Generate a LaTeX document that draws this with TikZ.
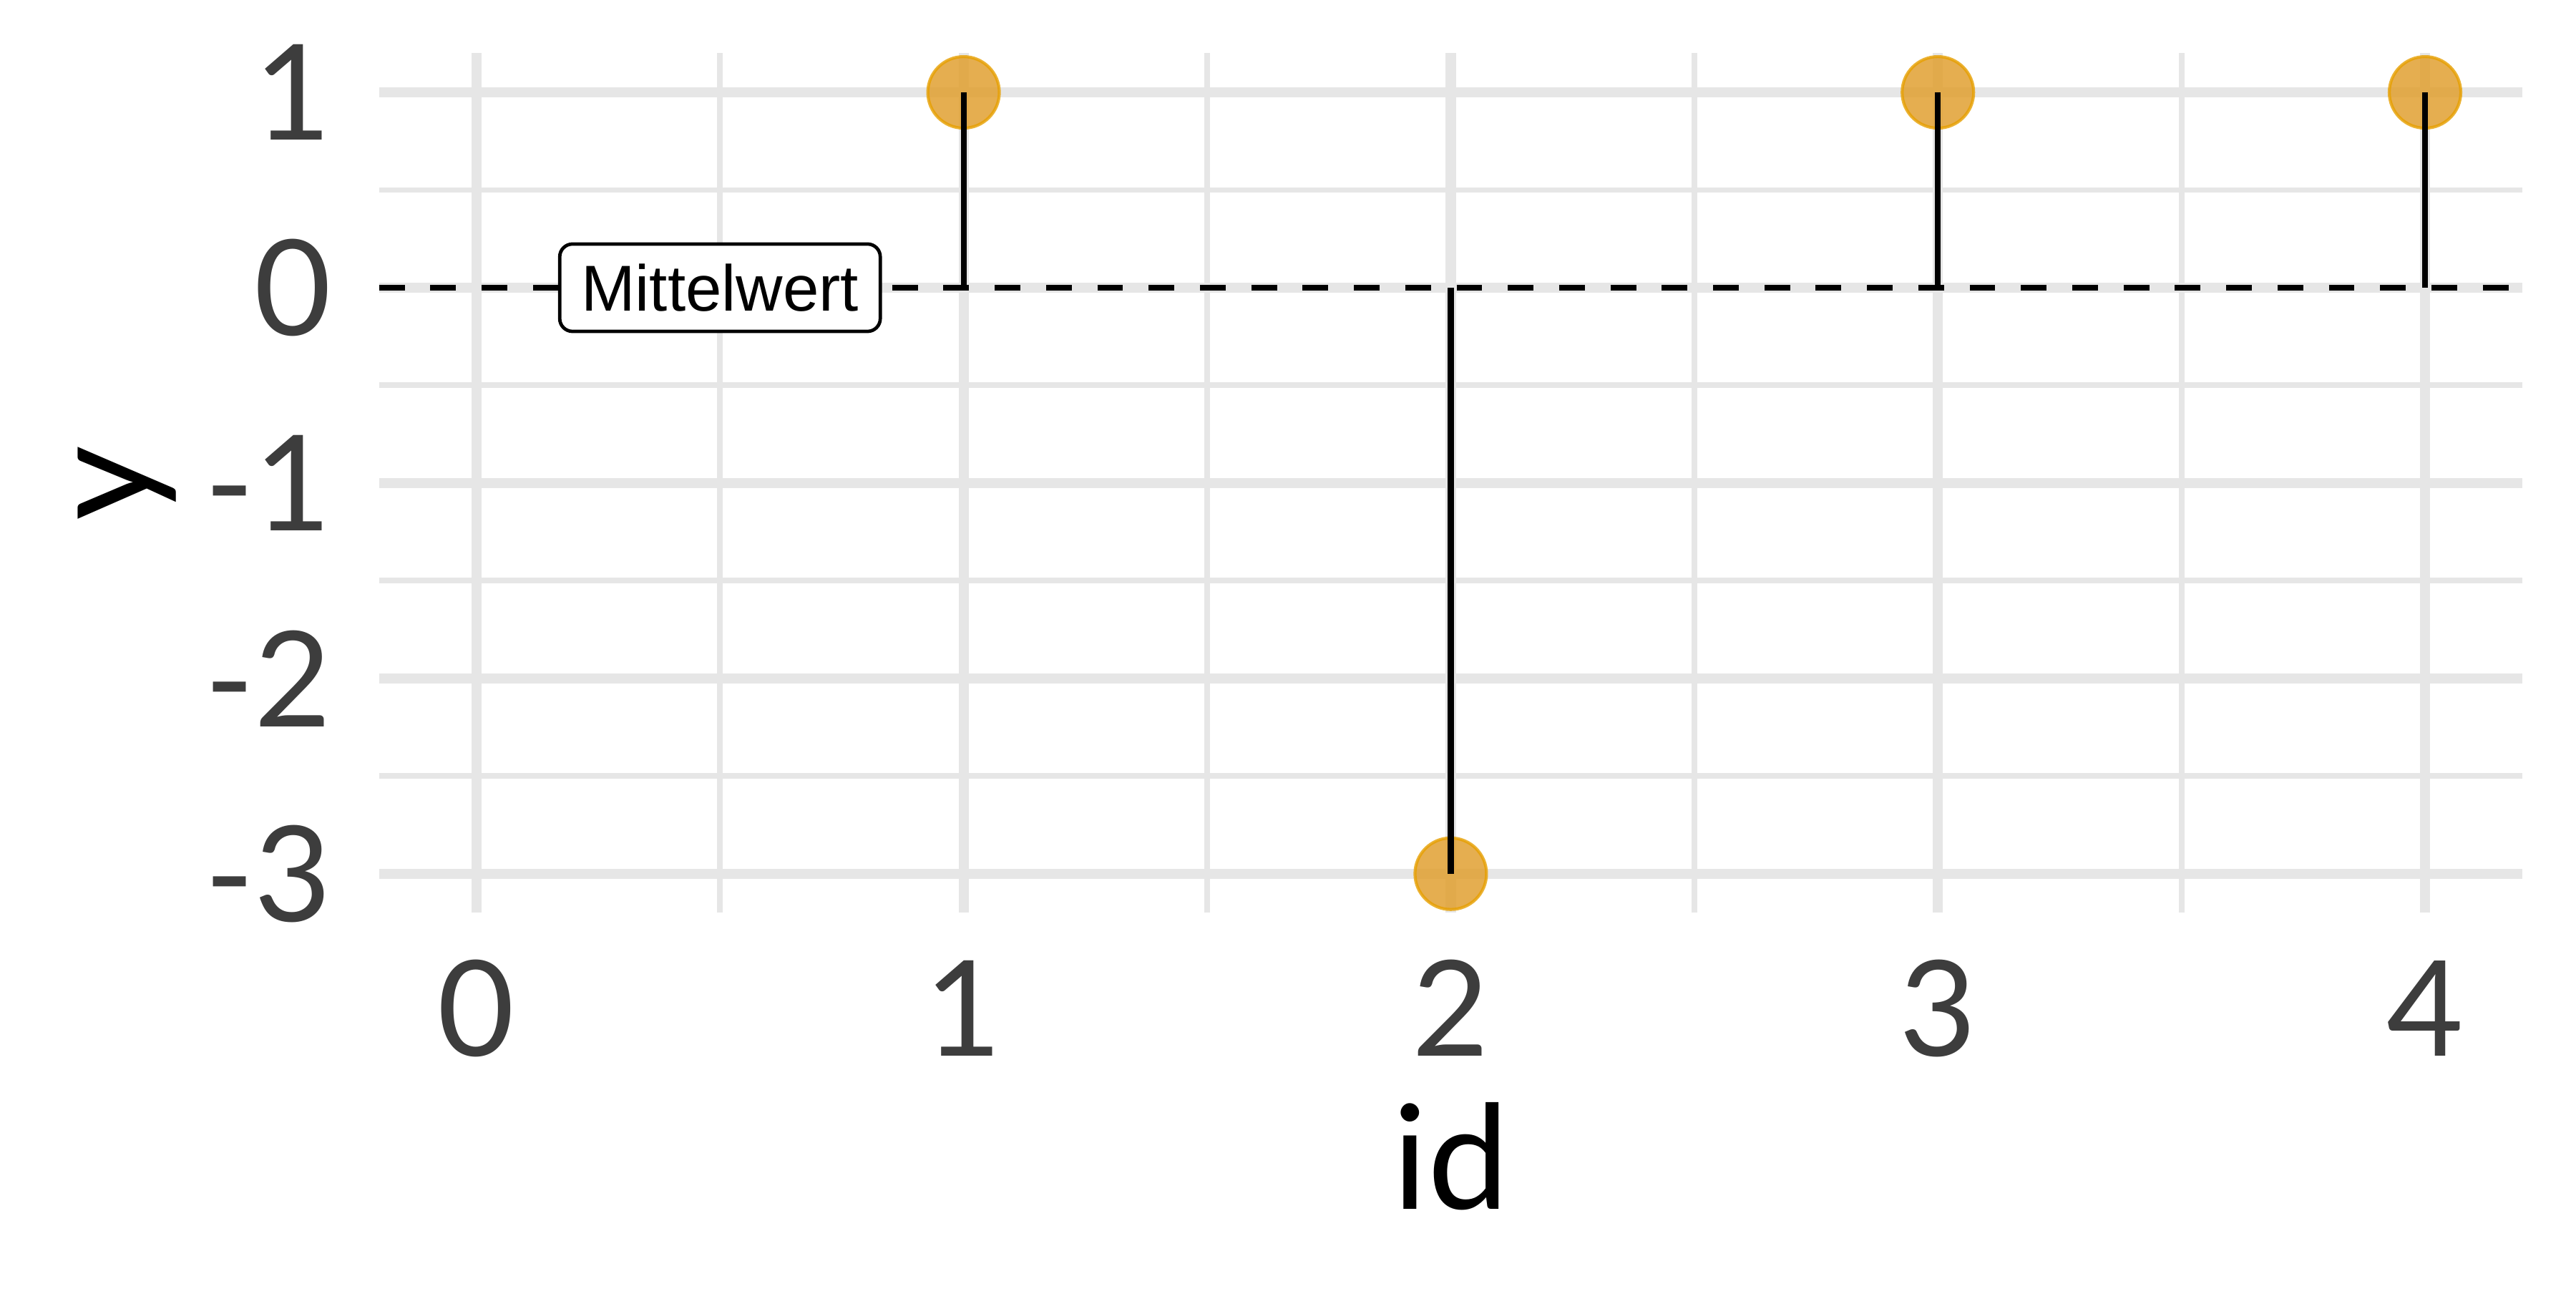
\documentclass[tikz,border=0pt]{standalone}
\usepackage{fontspec}
\setmainfont{Lato}
\newfontfamily\labelfont{Liberation Sans}

\definecolor{gridgray}{HTML}{E6E6E6}
\definecolor{ticktext}{HTML}{3D3D3D}
\definecolor{dotorange}{HTML}{E69F00}
\definecolor{dotfill}{HTML}{E1A031}

\tikzset{
    gridmajor/.style={draw=gridgray, line width=1.35pt},
    gridminor/.style={draw=gridgray, line width=0.75pt},
    ticklabel/.style={text=ticktext, inner sep=0pt, font=\fontsize{17.6}{20}\selectfont},
    axistitle/.style={inner sep=0pt, font=\fontsize{19.2}{22}\selectfont},
    obs/.style={circle, minimum size=0.333cm, inner sep=0pt, fill=dotfill, fill opacity=0.85,
        draw=dotorange, draw opacity=0.8, line width=0.4pt},
    stemline/.style={line width=0.78pt},
    meanline/.style={line width=0.74pt, dash pattern=on 3.4pt off 3.4pt},
    meanlabel/.style={draw, fill=white, rounded corners=1.7pt, line width=0.45pt, inner sep=0pt,
        minimum width=1.493cm, minimum height=0.407cm, font=\labelfont\fontsize{8.6}{10}\selectfont}
}

\begin{document}
\begin{tikzpicture}[x=2.269cm, y=0.9096cm]
    \useasboundingbox (-0.978,-5.123) rectangle (4.310,1.473);

    % grid
    \foreach \x in {0.5,1.5,2.5,3.5}
        \draw[gridminor] (\x,-3.2) -- (\x,1.2);
    \foreach \y in {-2.5,-1.5,-0.5,0.5}
        \draw[gridminor] (-0.2,\y) -- (4.2,\y);
    \foreach \x in {0,...,4}
        \draw[gridmajor] (\x,-3.2) -- (\x,1.2);
    \foreach \y in {-3,...,1}
        \draw[gridmajor] (-0.2,\y) -- (4.2,\y);

    % axes text
    \foreach \x in {0,...,4}
        \node[ticklabel, anchor=base] (xtick\x) at (\x,-3.932) {\x};
    \foreach \y [count=\i] in {-3,...,1}
        \node[ticklabel, anchor=east] (ytick\i) at (-0.294,\y) {\y};
    \node[axistitle, anchor=base] (xtitle) at (2,-4.716) {id};
    \node[axistitle, anchor=base, rotate=90] (ytitle) at (-0.667,-1) {y};

    % mean
    \coordinate (ml) at (-0.2,0);
    \coordinate (mr) at (4.2,0);
    \draw[meanline] (ml) -- (mr);

    % observations
    \foreach \x/\v in {1/1, 2/-3, 3/1, 4/1} {
        \node[obs] (p\x) at (\x,\v) {};
        \coordinate (m\x) at (\x,0);
        \draw[stemline] (m\x) -- (p\x.center);
    }

    \node[meanlabel] (mittel) at (0.5,0) {Mittelwert};
\end{tikzpicture}
\end{document}
